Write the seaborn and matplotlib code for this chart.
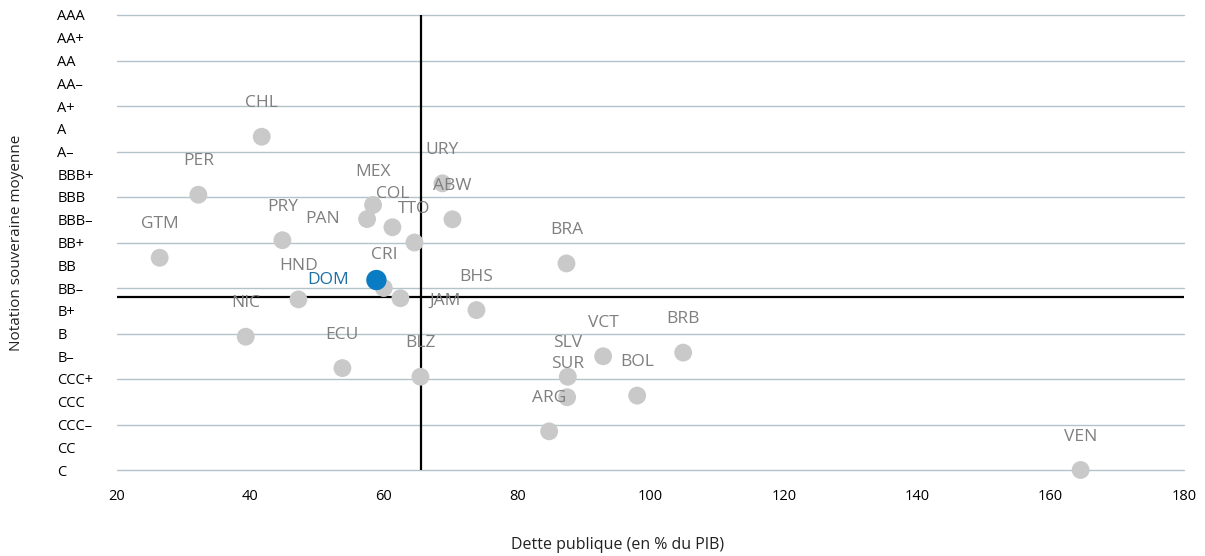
import matplotlib
matplotlib.use("Agg")
import matplotlib.pyplot as plt
import seaborn as sns
import pandas as pd
from matplotlib.ticker import FixedLocator

# Average sovereign rating scale, lowest (C) to highest (AAA)
rating_scale = ["C", "CC", "CCC–", "CCC", "CCC+", "B–", "B", "B+", "BB–", "BB",
                "BB+", "BBB–", "BBB", "BBB+", "A–", "A", "A+", "AA–", "AA", "AA+", "AAA"]

countries = ["CHL", "PER", "GTM", "PRY", "HND", "NIC", "ECU", "MEX", "PAN", "COL",
             "TTO", "URY", "ABW", "CRI", "DOM", "JAM", "BHS", "BRA", "BLZ", "VCT",
             "BRB", "SLV", "SUR", "ARG", "BOL", "VEN"]
debt = [41.7, 32.2, 26.4, 44.8, 47.2, 39.3, 53.8, 58.4, 57.5, 61.3,
        64.6, 68.8, 70.3, 60.0, 58.9, 62.5, 73.9, 87.4, 65.5, 92.9,
        104.9, 87.6, 87.5, 84.8, 98.0, 164.5]
rating = [14.65, 12.1, 9.33, 10.1, 7.5, 5.86, 4.48, 11.65, 11.03, 10.67,
          10.0, 12.6, 11.02, 8.0, 8.35, 7.55, 7.03, 9.08, 4.1, 5.0,
          5.16, 4.1, 3.2, 1.7, 3.27, 0.0]

highlight = "DOM"
avg_debt = 65.6
avg_rating = 7.6

df = pd.DataFrame({"country": countries, "debt": debt, "rating": rating})
others = df[df["country"] != highlight]
focus = df[df["country"] == highlight]

sns.set_style("white")
plt.rcParams["font.family"] = ["Open Sans", "DejaVu Sans"]

fig = plt.figure(figsize=(12.05, 5.56), dpi=100)
ax = fig.add_axes([117 / 1205, 1 - 470 / 556, (1184 - 117) / 1205, (470 - 15) / 556])

grey_dot = "#c9c9c9"
grey_txt = "#7f7f7f"
blue_dot = "#0a7cc4"
blue_txt = "#1f6fa3"

# reference lines (averages)
ax.axvline(avg_debt, color="black", lw=1.6, zorder=2)
ax.axhline(avg_rating, color="black", lw=1.6, zorder=2)

sns.scatterplot(data=others, x="debt", y="rating", color=grey_dot, s=165,
                edgecolor="none", linewidth=0, ax=ax, zorder=3, legend=False)
sns.scatterplot(data=focus, x="debt", y="rating", color=blue_dot, s=215,
                edgecolor="none", linewidth=0, ax=ax, zorder=4, legend=False)
for coll in ax.collections:
    coll.set_clip_on(False)

# label offsets in points (default: centred above the dot)
label_offsets = {"PAN": (-32, 0), "JAM": (32, -2), "DOM": (-35, 0)}
for c, x, y in zip(countries, debt, rating):
    dx, dy = label_offsets.get(c, (0, 24))
    col = blue_txt if c == highlight else grey_txt
    ax.annotate(c, (x, y), xytext=(dx, dy), textcoords="offset points",
                ha="center", va="center", fontsize=12.5, color=col, zorder=5)

ax.set_xlim(20, 180)
ax.set_ylim(0, 20)
ax.set_xticks(range(20, 181, 20))
ax.set_yticks(range(0, 21))
ax.set_yticklabels(rating_scale)
ax.yaxis.remove_overlapping_locs = False
ax.yaxis.set_minor_locator(FixedLocator(range(0, 21, 2)))
ax.grid(False)
ax.yaxis.grid(True, which="minor", color="#b4c2cb", lw=1.0)
ax.set_axisbelow(True)
for t in ax.yaxis.get_minor_ticks():
    t.gridline.set_clip_on(False)

for s in ax.spines.values():
    s.set_visible(False)

ax.tick_params(axis="y", which="both", length=0, pad=43, labelsize=10.5, labelcolor="black")
ax.tick_params(axis="x", length=0, pad=14, labelsize=10.5, labelcolor="black")
for lab in ax.get_yticklabels():
    lab.set_horizontalalignment("left")

ax.set_xlabel("")
ax.set_ylabel("")
fig.text(618 / 1205, 1 - 545 / 556, "Dette publique (en % du PIB)", ha="center",
         va="center", fontsize=11.5, color="#222222")
fig.text(17 / 1205, 1 - 243 / 556, "Notation souveraine moyenne", ha="center",
         va="center", rotation=90, fontsize=11, color="#222222")

fig.savefig("out.png", dpi=100)
